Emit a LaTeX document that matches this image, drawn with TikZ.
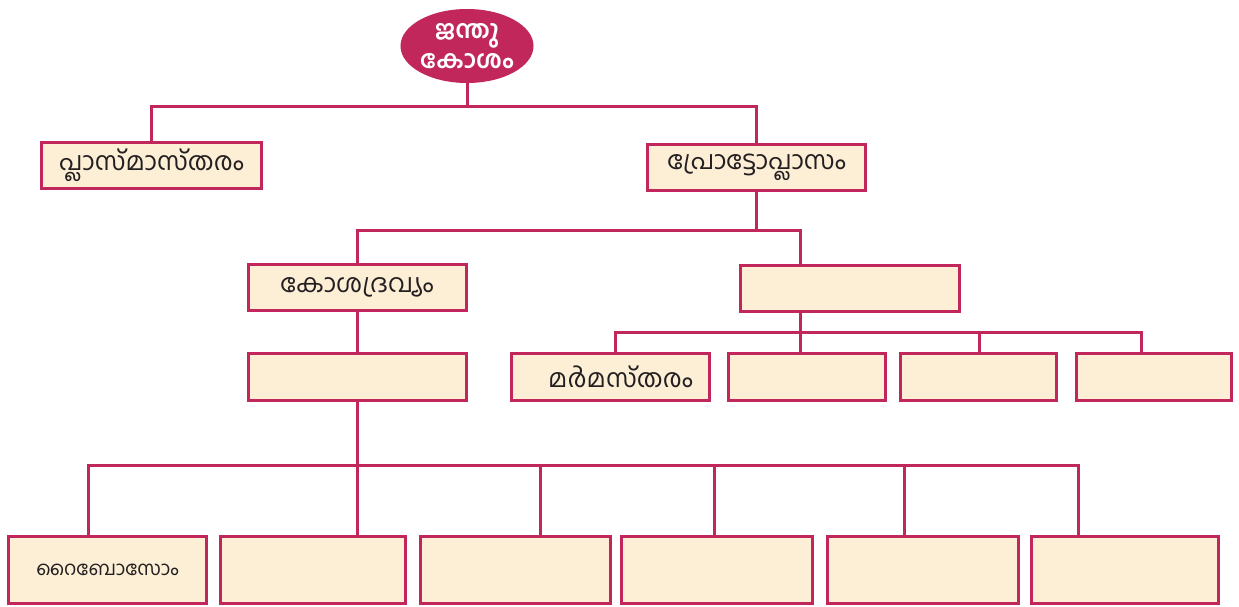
\documentclass[tikz,border=0pt]{standalone}
\usepackage{fontspec}
\newfontfamily\mal[Script=Malayalam]{Hind Kochi}
\usetikzlibrary{shapes.geometric}
\definecolor{crim}{HTML}{C2275C}
\definecolor{boxfill}{HTML}{FDEFD6}
\definecolor{ink}{HTML}{231F20}
\tikzset{
  box/.style={draw=crim, line width=3pt, fill=boxfill, inner sep=0pt, text=ink},
  conn/.style={draw=crim, line width=3pt, line cap=rect},
  lbl/.style={font=\mal\fontsize{25.5}{28}\selectfont},
}
\begin{document}
\begin{tikzpicture}[x=1pt,y=-1pt]
\useasboundingbox (0,0) rectangle (1239,607);
% root
\node[ellipse, fill=crim, minimum width=133pt, minimum height=74pt, inner sep=0pt,
      text=white, align=center, font=\mal\bfseries\fontsize{25}{30}\selectfont] (T) at (467,46) {ജന്തു\\കോശം};
% level 1
\node[box, minimum width=220pt, minimum height=46pt, lbl] (A) at (151.5,165.5) {പ്ലാസ്മാസ്തരം};
\node[box, minimum width=218pt, minimum height=46pt, lbl] (B) at (756.5,167.5) {പ്രോട്ടോപ്ലാസം};
% level 2
\node[box, minimum width=218pt, minimum height=46pt, lbl] (C) at (357,287.5) {കോശദ്രവ്യം};
\node[box, minimum width=219pt, minimum height=46pt] (D) at (850,288) {};
% level 3
\node[box, minimum width=218pt, minimum height=47pt] (E) at (357,377) {};
\node[box, minimum width=198pt, minimum height=47pt, lbl] (N1) at (610.5,377) {\hspace*{20pt}മർമസ്തരം};
\node[box, minimum width=157pt, minimum height=47pt] (N2) at (807,377) {};
\node[box, minimum width=156pt, minimum height=47pt] (N3) at (978.5,377) {};
\node[box, minimum width=155pt, minimum height=47pt] (N4) at (1154,377) {};
% level 4
\node[box, minimum width=198pt, minimum height=67pt, font=\mal\fontsize{19.5}{22}\selectfont] (R1) at (107.5,570) {റൈബോസോം};
\node[box, minimum width=185pt, minimum height=67pt] (R2) at (313,570) {};
\node[box, minimum width=190pt, minimum height=67pt] (R3) at (515.5,570) {};
\node[box, minimum width=191pt, minimum height=67pt] (R4) at (717,570) {};
\node[box, minimum width=191pt, minimum height=67pt] (R5) at (923,570) {};
\node[box, minimum width=187pt, minimum height=67pt] (R6) at (1125,570) {};
% junction coordinates
\coordinate (j1) at (467,107);
\coordinate (j2) at (756.5,230);
\coordinate (j2d) at (800,230);
\coordinate (j3) at (800,332);
\coordinate (n1) at (615,332);
\coordinate (n3) at (979,332);
\coordinate (n4) at (1141,332);
\coordinate (j4) at (357,465);
\coordinate (r1) at (88,465);
\coordinate (r3) at (540,465);
\coordinate (r4) at (714,465);
\coordinate (r5) at (904,465);
\coordinate (r6) at (1078,465);
% connectors
\draw[conn] (T.south) -- (j1);
\draw[conn] (A.north) |- (j1) -| (B.north);
\draw[conn] (B.south) -- (j2);
\draw[conn] (C.north) |- (j2d) -- (D.north -| j2d);
\draw[conn] (D.south -| j3) -- (j3);
\draw[conn] (N1.north -| n1) -- (n1) -- (n4) -- (N4.north -| n4);
\draw[conn] (j3) -- (N2.north -| j3);
\draw[conn] (n3) -- (N3.north -| n3);
\draw[conn] (C.south) -- (E.north);
\draw[conn] (E.south) -- (j4);
\draw[conn] (j4) -- (R2.north -| j4);
\draw[conn] (R1.north -| r1) -- (r1) -- (r6) -- (R6.north -| r6);
\draw[conn] (r3) -- (R3.north -| r3);
\draw[conn] (r4) -- (R4.north -| r4);
\draw[conn] (r5) -- (R5.north -| r5);
\end{tikzpicture}
\end{document}
